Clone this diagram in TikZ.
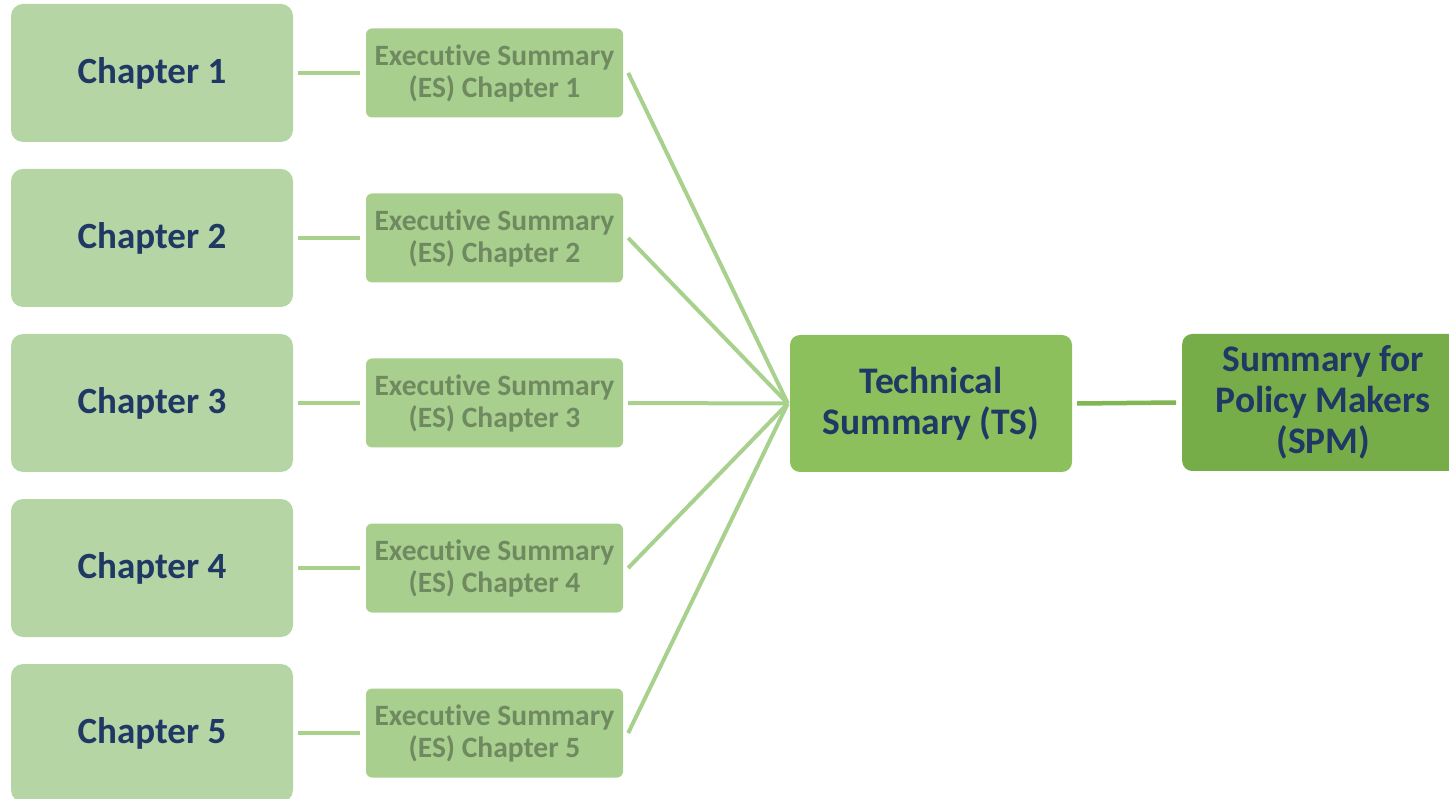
\documentclass[tikz,border=0pt]{standalone}
\usepackage{fontspec}
\setmainfont{Carlito}[Ligatures=NoCommon]
\usetikzlibrary{calc}
\definecolor{chapfill}{HTML}{B5D5A5}
\definecolor{esfill}{HTML}{A9CF8F}
\definecolor{tsfill}{HTML}{8BC05C}
\definecolor{spmfill}{HTML}{77AD48}
\definecolor{navy}{HTML}{1F3864}
\definecolor{estext}{HTML}{6F8A60}
\definecolor{linkc}{HTML}{A9D18E}
\definecolor{linkd}{HTML}{80B653}
\begin{document}
\begin{tikzpicture}[x=1pt,y=-1pt,
  chapbox/.style={fill=chapfill,rounded corners=12pt,minimum width=282pt,minimum height=138pt,
    font=\fontsize{37}{40}\selectfont\bfseries,text=navy,inner sep=0pt},
  esbox/.style={fill=esfill,rounded corners=6pt,minimum width=257pt,minimum height=89pt,
    font=\fontsize{29.5}{32}\selectfont\bfseries,text=estext,align=center,inner sep=0pt},
  bigbox/.style={rounded corners=10pt,minimum width=282pt,minimum height=137pt,
    font=\fontsize{37.5}{41}\selectfont\bfseries,text=navy,align=center,inner sep=0pt},
  link/.style={draw=linkc,line width=4.5pt},
  fan/.style={draw=linkc,line width=4pt}]
\useasboundingbox (0,0) rectangle (1449,799);
\begin{scope}
\clip (0,0) rectangle (1449,799);
\foreach \i in {1,...,5}{
  \pgfmathsetmacro{\yy}{73+165*(\i-1)}
  \node[chapbox] (c\i) at (152,\yy) {Chapter \i};
  \node[esbox] (e\i) at (494.5,\yy) {Executive Summary\\(ES) Chapter \i};
}
\node[bigbox,fill=tsfill] (ts) at (931,403.5) {Technical\\Summary (TS)};
\node[bigbox,fill=spmfill,anchor=west] (spm) at (1182,402.5) {\makebox[267pt]{\parbox{282pt}{\centering\fontsize{37.5}{41}\selectfont Summary for\\Policy Makers\\(SPM)}}};
\end{scope}
\coordinate (hub) at ($(ts.west)+(-2,0)$);
\foreach \i in {1,...,5}{
  \draw[link] ($(c\i.east)+(5,0)$) -- ($(e\i.west)+(-6,0)$);
  \draw[fan] ($(e\i.east)+(5,0)$) -- (hub);
}
\draw[draw=linkd,line width=4.5pt] ($(ts.east)+(5,0)$) -- ($(spm.west)+(-6,0)$);
\end{tikzpicture}
\end{document}
